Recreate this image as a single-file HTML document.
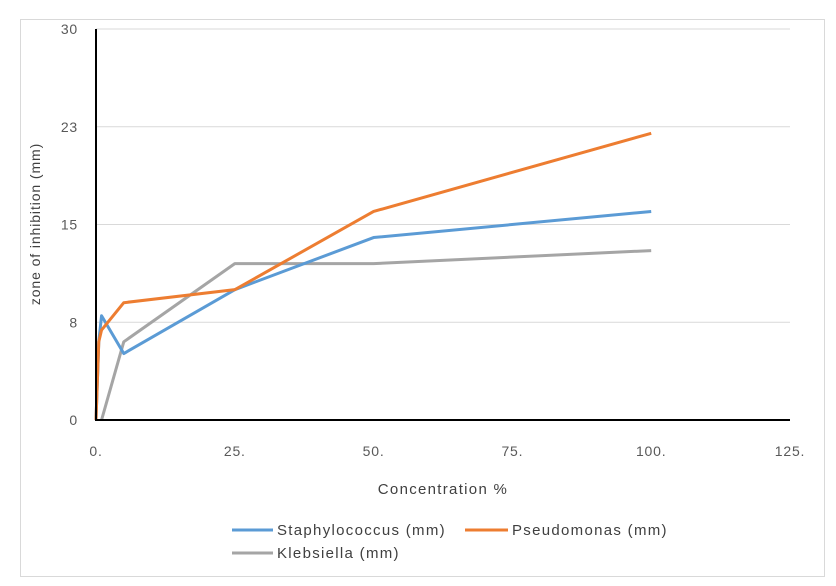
<!DOCTYPE html>
<html><head><meta charset="utf-8"><style>
body{margin:0;background:#fff;}
svg{display:block;font-family:"Liberation Sans",sans-serif;}
</style></head><body>
<svg id="c" width="836" height="586">
<rect x="20.5" y="19.5" width="804" height="557" fill="#fff" stroke="#d9d9d9"/>
<g id="grid"></g><g id="series"></g><g id="axes"></g>
<text x="40" y="224" transform="rotate(-90 40 224)" text-anchor="middle" font-size="14" letter-spacing="0.9" fill="#404040">zone of inhibition (mm)</text>
<text x="443" y="494" text-anchor="middle" font-size="15" letter-spacing="1.3" fill="#404040">Concentration %</text>
<g>
<g><line x1="232" y1="530" x2="273" y2="530" stroke="#5b9bd5" stroke-width="3"/><text x="277" y="535" font-size="15" letter-spacing="1.3" fill="#404040">Staphylococcus (mm)</text></g>
<g><line x1="465" y1="530" x2="508" y2="530" stroke="#ed7d31" stroke-width="3"/><text x="512" y="535" font-size="15" letter-spacing="1.3" fill="#404040">Pseudomonas (mm)</text></g>
<g><line x1="232" y1="553" x2="273" y2="553" stroke="#a5a5a5" stroke-width="3"/><text x="277" y="558" font-size="15" letter-spacing="1.3" fill="#404040">Klebsiella (mm)</text></g>
</g>
</svg>
<script>
const xValues=[0,0.5,1,5,25,50,100];
const staph=[0,6,8,5.1,10,14,16];
const pseudo=[0,6,6.9,9,10,16,22];
const kleb=[0,0,0,6,12,12,13];
const yTicks=[0,7.5,15,22.5,30];
const yTickLabels=["0","8","15","23","30"];
const xTicks=[0,25,50,75,100,125];
const xTickLabels=["0.","25.","50.","75.","100.","125."];
const NS="http://www.w3.org/2000/svg";
const X0=96,X1=790,Y0=420,Y1=29;
const sx=v=>X0+(v/125)*(X1-X0);
const sy=v=>Y0-(v/30)*(Y0-Y1);
function mk(t,a,p){const e=document.createElementNS(NS,t);for(const k in a)e.setAttribute(k,a[k]);p.appendChild(e);return e;}
const grid=document.getElementById('grid'),axes=document.getElementById('axes'),ser=document.getElementById('series');
yTicks.forEach((v,i)=>{
 if(v>0){const g=mk('line',{x1:X0,x2:X1,y1:sy(v),y2:sy(v),stroke:'#d9d9d9','stroke-width':1},grid);
 
 }
 const t=mk('text',{x:78,y:sy(v)+5,'text-anchor':'end','font-size':14,'letter-spacing':0.8,fill:'#595959'},axes);t.textContent=yTickLabels[i];
 
 
});
xTicks.forEach((v,i)=>{
 const t=mk('text',{x:sx(v),y:456,'text-anchor':'middle','font-size':14,'letter-spacing':0.8,fill:'#595959'},axes);t.textContent=xTickLabels[i];
 
 
});
const ya=mk('line',{x1:X0,x2:X0,y1:Y1,y2:Y0+1,stroke:'#000','stroke-width':2},axes);


const xa=mk('line',{x1:X0-1,x2:X1,y1:Y0,y2:Y0,stroke:'#000','stroke-width':2},axes);


function line(vals,color,name,xs){
 const pts=vals.map((v,i)=>sx(xs[i])+','+sy(v)).join(' ');
 const p=mk('polyline',{points:pts,fill:'none',stroke:color,'stroke-width':3,'stroke-linejoin':'round'},ser);
 
 
}
line(kleb,'#a5a5a5','series-klebsiella',xValues.map((x,i)=>i<2?1:x));
line(staph,'#5b9bd5','series-staphylococcus',xValues);
line(pseudo,'#ed7d31','series-pseudomonas',xValues);
</script>
</body></html>
